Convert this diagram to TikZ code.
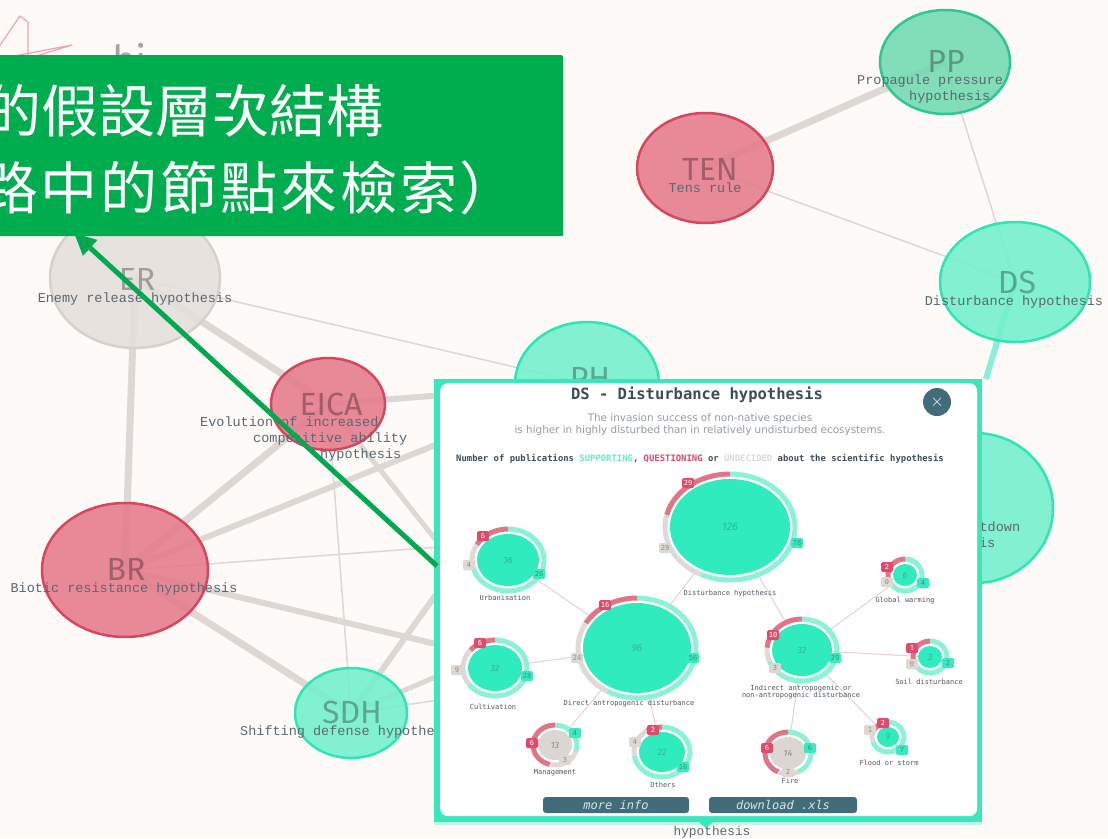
\documentclass[tikz,border=0pt]{standalone}
\usepackage{fontspec}
\usetikzlibrary{shapes.geometric,arrows.meta}
\newfontfamily\cjkfont{Noto Sans CJK TC}
\newfontfamily\cjkwide{Noto Sans CJK TC}[LetterSpace=5]
\newfontfamily\lmono{Liberation Mono}
\newfontfamily\dvmono{DejaVu Sans Mono}
\newfontfamily\dvsans{DejaVu Sans}
\newfontfamily\fira{Fira Sans}

\definecolor{bg}{HTML}{FDFAF7}
\definecolor{edgegray}{HTML}{DDD8D4}
\definecolor{redfill}{HTML}{E67A8B}
\definecolor{redline}{HTML}{D6465F}
\definecolor{tealfill}{HTML}{72F0CC}
\definecolor{tealline}{HTML}{2FE5B4}
\definecolor{ppfill}{HTML}{72D9B1}
\definecolor{ppline}{HTML}{2BC794}
\definecolor{grayfill}{HTML}{E4DFDB}
\definecolor{grayline}{HTML}{D7D1CD}
\definecolor{labeltext}{HTML}{5A6872}
\definecolor{calloutgreen}{HTML}{00AD4E}
\definecolor{arrowgreen}{HTML}{00A84F}
\definecolor{popteal}{HTML}{3BE6BC}
\definecolor{popband}{HTML}{BDF4E5}
\definecolor{titleink}{HTML}{3D4D57}
\definecolor{subink}{HTML}{969CA1}
\definecolor{btnfill}{HTML}{416C79}
\definecolor{btnink}{HTML}{D8E6EA}
\definecolor{supp}{HTML}{6FE6C8}
\definecolor{ques}{HTML}{D9476A}
\definecolor{undec}{HTML}{D9D9D9}
\definecolor{disk}{HTML}{2FEBBE}
\definecolor{ringteal}{HTML}{8CF1D7}
\definecolor{ringred}{HTML}{E27488}
\definecolor{ringgray}{HTML}{E0DAD6}
\definecolor{diskgray}{HTML}{DCD6D2}
\definecolor{tagred}{HTML}{DF4B6C}
\definecolor{taggray}{HTML}{DDD8D4}
\definecolor{tagteal}{HTML}{3DE8C0}
\definecolor{taggraytext}{HTML}{8F8A86}
\definecolor{tagtealtext}{HTML}{1E9E80}
\definecolor{minilink}{HTML}{EBCFCF}
\definecolor{minilabel}{HTML}{4E5860}
\definecolor{disknum}{HTML}{33B595}
\definecolor{disknumgray}{HTML}{8E8884}
\definecolor{starpink}{HTML}{F2A2AC}
\definecolor{higray}{HTML}{A5A5A5}

\pgfdeclarelayer{backdrop}
\pgfdeclarelayer{links}
\pgfsetlayers{backdrop,links,main}

\tikzset{
  edgeline/.style={draw=edgegray},
  hyp/.style={ellipse, line width=2.5pt, fill opacity=0.88, inner sep=0pt},
  redhyp/.style={hyp, draw=redline, fill=redfill},
  tealhyp/.style={hyp, draw=tealline, fill=tealfill},
  pphyp/.style={hyp, draw=ppline, fill=ppfill},
  grayhyp/.style={hyp, draw=grayline, fill=grayfill},
  abbr/.style={font=\fira\fontsize{32pt}{32pt}\selectfont, text=black, text opacity=0.3, inner sep=0pt},
  desc/.style={font=\lmono\fontsize{13.5pt}{16pt}\selectfont, text=labeltext, inner sep=0pt},
  ring/.style={line width=5pt},
  minidisk/.style={ellipse, fill=disk, inner sep=0pt},
  minigray/.style={ellipse, fill=diskgray, inner sep=0pt},
  mininum/.style={font=\fira\itshape\fontsize{9pt}{9pt}\selectfont, text=disknum, inner sep=0pt},
  mininumgray/.style={mininum, text=disknumgray},
  minilab/.style={font=\dvmono\fontsize{7pt}{7.5pt}\selectfont, text=minilabel, inner sep=0pt, align=center},
  minilinkline/.style={draw=minilink, line width=1pt},
  tag/.style={rounded corners=1.5pt, minimum width=12pt, minimum height=10pt, inner sep=1pt, font=\dvmono\fontsize{7pt}{7pt}\selectfont},
  tagR/.style={tag, fill=tagred, text=white},
  tagG/.style={tag, fill=taggray, text=taggraytext},
  tagT/.style={tag, fill=tagteal, text=tagtealtext},
  button/.style={fill=btnfill, rounded corners=3pt, text=btnink, inner sep=0pt, font=\dvmono\itshape\fontsize{12pt}{12pt}\selectfont},
  cjktext/.style={font=\cjkfont\fontsize{57pt}{60pt}\selectfont, text=white, inner sep=0pt},
  cjktextwide/.style={font=\cjkwide\fontsize{57pt}{60pt}\selectfont, text=white, inner sep=0pt},
}

% one sub-hypothesis of the popup: disk plus a ring split into
% questioning (red), undecided (gray) and supporting (teal) shares
% #1 coordinate, #2 rx, #3 ry, #4 red, #5 gray, #6 teal, #7 disk style
\newcommand\minihyp[7]{%
  \pgfmathsetmacro\mhTot{#4+#5+#6}%
  \pgfmathsetmacro\mhA{-90-360*#4/\mhTot}%
  \pgfmathsetmacro\mhB{\mhA-360*#5/\mhTot}%
  \pgfmathsetmacro\mhRx{#2+5}%
  \pgfmathsetmacro\mhRy{#3+5}%
  \pgfmathsetmacro\mhW{2*#2}%
  \pgfmathsetmacro\mhH{2*#3}%
  \draw[ring, ringteal] (#1) ++({\mhRx*cos(\mhB)},{\mhRy*sin(\mhB)}) arc[start angle=\mhB, end angle=-450, x radius=\mhRx, y radius=\mhRy];
  \ifnum#5>0 \draw[ring, ringgray] (#1) ++({\mhRx*cos(\mhA)},{\mhRy*sin(\mhA)}) arc[start angle=\mhA, end angle=\mhB, x radius=\mhRx, y radius=\mhRy];\fi
  \ifnum#4>0 \draw[ring, ringred] (#1) ++(0,{-\mhRy}) arc[start angle=-90, end angle=\mhA, x radius=\mhRx, y radius=\mhRy];\fi
  \node[#7, minimum width=\mhW pt, minimum height=\mhH pt] (#1-disk) at (#1) {};
}

\begin{document}
\begin{tikzpicture}[x=1pt, y=-1pt]
\useasboundingbox (0,0) rectangle (1108,838);
\clip (0,0) rectangle (1108,838);
\begin{pgfonlayer}{backdrop}
  \fill[bg] (0,0) rectangle (1108,838);
\end{pgfonlayer}

% logo in the corner
\draw[starpink, line width=1.2pt, line join=round] (-2,48) -- (20,16) -- (28,22) -- (28,58);
\draw[starpink, line width=1.2pt, line join=round] (4,58) -- (72,45) -- (30,58);
\node[font=\fira\fontsize{40pt}{40pt}\selectfont, text=higray, anchor=base west, inner sep=0pt] (logo) at (112,74) {hi};

% hypothesis network
\node[pphyp, minimum width=130pt, minimum height=104pt] (PP) at (945,62) {};
\node[redhyp, minimum width=136pt, minimum height=110pt] (TEN) at (705,168) {};
\node[tealhyp, minimum width=150pt, minimum height=120pt] (DS) at (1015,282) {};
\node[grayhyp, minimum width=170pt, minimum height=140pt] (ER) at (135,278) {};
\node[redhyp, minimum width=114pt, minimum height=92pt] (EICA) at (328,404) {};
\node[redhyp, minimum width=166pt, minimum height=134pt] (BR) at (125,570) {};
\node[tealhyp, minimum width=112pt, minimum height=90pt] (SDH) at (351,713) {};
\node[tealhyp, minimum width=144pt, minimum height=124pt] (PH) at (587,384) {};
\node[tealhyp, minimum width=156pt, minimum height=150pt] (IM) at (975,508) {};

\coordinate (hidEICA) at (600,747);
\coordinate (hidBR) at (600,683);
\coordinate (hidSDHa) at (600,607);
\coordinate (hidSDHb) at (600,676);
\coordinate (popCorner) at (986,379);

\begin{pgfonlayer}{links}
  \draw[edgeline, line width=7pt] (TEN.center) -- (PP.center);
  \draw[edgeline, line width=1.5pt] (TEN.center) -- (DS.center);
  \draw[edgeline, line width=1.5pt] (PP.center) -- (DS.center);
  \draw[edgeline, line width=7pt] (ER.center) -- (EICA.center);
  \draw[edgeline, line width=7pt] (ER.center) -- (BR.center);
  \draw[edgeline, line width=1.5pt] (ER.center) -- (PH.center);
  \draw[edgeline, line width=6pt] (EICA.center) -- (PH.center);
  \draw[edgeline, line width=7pt] (EICA.center) -- (BR.center);
  \draw[edgeline, line width=1.5pt] (EICA.center) -- (SDH.center);
  \draw[edgeline, line width=5pt] (EICA.center) -- (hidEICA);
  \draw[edgeline, line width=6pt] (BR.center) -- (PH.center);
  \draw[edgeline, line width=1.5pt] (BR.center) -- (IM.center);
  \draw[edgeline, line width=6pt] (BR.center) -- (hidBR);
  \draw[edgeline, line width=7pt] (BR.center) -- (SDH.center);
  \draw[edgeline, line width=6pt] (SDH.center) -- (PH.center);
  \draw[edgeline, line width=5pt] (SDH.center) -- (hidSDHa);
  \draw[edgeline, line width=1.5pt] (SDH.center) -- (hidSDHb);
  \draw[popteal!60, line width=6pt] (DS.center) -- (popCorner);
\end{pgfonlayer}

\node[abbr] (PPab) at (946,61) {PP};
\node[desc, anchor=west, align=left] (PPd) at (857,89) {Propagule pressure\\\hspace*{52pt}hypothesis};
\node[abbr] (TENab) at (710,169) {TEN};
\node[desc] (TENd) at (705,188) {Tens rule};
\node[abbr] (DSab) at (1017,282) {DS};
\node[desc] (DSd) at (1014,302) {Disturbance hypothesis};
\node[abbr] (ERab) at (137,279) {ER};
\node[desc] (ERd) at (135,299) {Enemy release hypothesis};
\node[abbr] (EICAab) at (331,404) {EICA};
\node[desc, anchor=west, align=left] (EICAd) at (200,439) {Evolution of increased\\\hspace*{53pt}competitive ability\\\hspace*{120pt}hypothesis};
\node[abbr] (BRab) at (126,569) {BR};
\node[desc] (BRd) at (124,589) {Biotic resistance hypothesis};
\node[abbr] (SDHab) at (352,712) {SDH};
\node[desc, anchor=west] (SDHd) at (240,732) {Shifting defense hypothesis};
\node[abbr] (PHab) at (590,378) {PH};
\node[desc, anchor=west, align=left] (IMd) at (866,536) {Invasional meltdown\\\hspace*{48pt}hypothesis};

% popup window
\node[fill=popteal, anchor=north west, minimum width=548pt, minimum height=443pt, inner sep=0pt] (popup) at (434,379) {};
\fill[popband] (434,822) rectangle (982,825);
\fill[popteal] (699,822) -- (713,822) -- (706,828) -- cycle;
\node[fill=white, rounded corners=8pt, anchor=north west, minimum width=537pt, minimum height=433pt, inner sep=0pt] (popbody) at (440,383) {};
\node[font=\lmono\fontsize{12.8pt}{13pt}\selectfont, text=labeltext, inner sep=0pt] (lowd) at (712,832) {hypothesis};

\node[circle, fill=btnfill, minimum size=28pt, inner sep=0pt, text=white, font=\fontsize{16pt}{16pt}\selectfont] (close) at (937,402) {$\times$};
\node[font=\dvmono\bfseries\fontsize{15.5pt}{18pt}\selectfont, text=titleink, inner sep=0pt] (title) at (697,395) {DS - Disturbance hypothesis};
\node[font=\dvsans\fontsize{10.4pt}{12pt}\selectfont, text=subink, align=center, inner sep=0pt] (subtitle) at (700,425) {The invasion success of non-native species\\is higher in highly disturbed than in relatively undisturbed ecosystems.};
\node[font=\dvmono\bfseries\fontsize{8.9pt}{10pt}\selectfont, text=titleink, inner sep=0pt] (legend) at (700,459) {Number of publications \textcolor{supp}{SUPPORTING}, \textcolor{ques}{QUESTIONING} or \textcolor{undec}{UNDECIDED} about the scientific hypothesis};

% sub-hypothesis tree
\coordinate (urb) at (508,560);
\coordinate (big) at (730,527);
\coordinate (dir) at (637,648);
\coordinate (cul) at (495,668);
\coordinate (ind) at (802,650);
\coordinate (glo) at (905,575);
\coordinate (soi) at (930,657);
\coordinate (flo) at (888,737);
\coordinate (fir) at (788,753);
\coordinate (man) at (555,745);
\coordinate (oth) at (662,752);

\draw[minilinkline] (urb) -- (dir);
\draw[minilinkline] (cul) -- (dir);
\draw[minilinkline] (dir) -- (big);
\draw[minilinkline] (big) -- (ind);
\draw[minilinkline] (ind) -- (glo);
\draw[minilinkline] (ind) -- (soi);
\draw[minilinkline] (ind) -- (fir);
\draw[minilinkline] (ind) -- (flo);
\draw[minilinkline] (dir) -- (man);
\draw[minilinkline] (dir) -- (oth);

\minihyp{urb}{31}{26}{6}{4}{26}{minidisk}
\minihyp{big}{60}{48}{29}{29}{78}{minidisk}
\minihyp{dir}{54}{45}{16}{24}{56}{minidisk}
\minihyp{cul}{27}{23}{6}{9}{28}{minidisk}
\minihyp{ind}{30}{26}{10}{3}{29}{minidisk}
\minihyp{glo}{12}{11}{2}{0}{4}{minidisk}
\minihyp{soi}{12}{11}{1}{0}{2}{minidisk}
\minihyp{flo}{11}{10}{2}{1}{7}{minidisk}
\minihyp{fir}{18}{16}{6}{2}{6}{minigray}
\minihyp{man}{17}{15}{6}{3}{4}{minigray}
\minihyp{oth}{23}{20}{2}{4}{16}{minidisk}

\node[mininum] (urb-n) at (urb) {36};
\node[mininum, font=\fira\itshape\fontsize{11pt}{11pt}\selectfont] (big-n) at (big) {126};
\node[mininum, font=\fira\itshape\fontsize{10pt}{10pt}\selectfont] (dir-n) at (dir) {96};
\node[mininum] (cul-n) at (cul) {32};
\node[mininum] (ind-n) at (ind) {32};
\node[mininum] (glo-n) at (glo) {6};
\node[mininum] (soi-n) at (soi) {3};
\node[mininum] (flo-n) at (flo) {9};
\node[mininumgray] (fir-n) at (fir) {14};
\node[mininumgray] (man-n) at (man) {13};
\node[mininum] (oth-n) at (oth) {22};

\node[tagR] (urb-r) at (483,536) {6};
\node[tagG] (urb-g) at (469,565) {4};
\node[tagT] (urb-t) at (539,574) {26};
\node[tagR] (big-r) at (688,483) {29};
\node[tagG] (big-g) at (665,548) {29};
\node[tagT] (big-t) at (797,543) {78};
\node[tagR] (dir-r) at (605,605) {16};
\node[tagG] (dir-g) at (577,658) {24};
\node[tagT] (dir-t) at (693,658) {56};
\node[tagR] (cul-r) at (480,643) {6};
\node[tagG] (cul-g) at (457,670) {9};
\node[tagT] (cul-t) at (527,676) {28};
\node[tagR] (ind-r) at (773,635) {10};
\node[tagG] (ind-g) at (775,668) {3};
\node[tagT] (ind-t) at (835,658) {29};
\node[tagR] (glo-r) at (887,567) {2};
\node[tagG] (glo-g) at (887,582) {0};
\node[tagT] (glo-t) at (923,583) {4};
\node[tagR] (soi-r) at (912,648) {1};
\node[tagG] (soi-g) at (912,664) {0};
\node[tagT] (soi-t) at (948,663) {2};
\node[tagR] (flo-r) at (883,723) {2};
\node[tagG] (flo-g) at (870,730) {1};
\node[tagT] (flo-t) at (902,750) {7};
\node[tagR] (fir-r) at (767,748) {6};
\node[tagG] (fir-g) at (788,772) {2};
\node[tagT] (fir-t) at (810,748) {6};
\node[tagR] (man-r) at (532,743) {6};
\node[tagG] (man-g) at (565,760) {3};
\node[tagT] (man-t) at (575,733) {4};
\node[tagR] (oth-r) at (653,730) {2};
\node[tagG] (oth-g) at (635,742) {4};
\node[tagT] (oth-t) at (683,767) {16};

\node[minilab] (urb-l) at (505,598) {Urbanisation};
\node[minilab] (big-l) at (730,594) {Disturbance hypothesis};
\node[minilab] (dir-l) at (629,704) {Direct antropogenic disturbance};
\node[minilab] (cul-l) at (493,707) {Cultivation};
\node[minilab] (ind-l) at (801,692) {Indirect antropogenic or\\non-antropogenic disturbance};
\node[minilab] (glo-l) at (905,601) {Global warming};
\node[minilab] (soi-l) at (929,682) {Soil disturbance};
\node[minilab] (man-l) at (555,773) {Management};
\node[minilab] (oth-l) at (663,785) {Others};
\node[minilab] (fir-l) at (790,781) {Fire};
\node[minilab] (flo-l) at (889,763) {Flood or storm};

\node[button, minimum width=146pt, minimum height=16pt] (moreinfo) at (616,805) {more info};
\node[button, minimum width=148pt, minimum height=16pt] (download) at (783,805) {download .xls};

% callout with its pointer
\coordinate (arrowTail) at (437,566);
\coordinate (arrowTip) at (74,233);
\draw[draw=arrowgreen, line width=5pt, -{Triangle[length=22pt, width=20pt]}] (arrowTail) -- (arrowTip);
\node[fill=calloutgreen, rounded corners=2pt, anchor=north west, minimum width=583pt, minimum height=181pt, inner sep=0pt] (callout) at (-20,55) {};
\node[cjktext, anchor=west] (calloutA) at (-16,111) {的假設層次結構};
\node[cjktextwide, anchor=west] (calloutB) at (-19,188) {路中的節點來檢索）};
\end{tikzpicture}
\end{document}
